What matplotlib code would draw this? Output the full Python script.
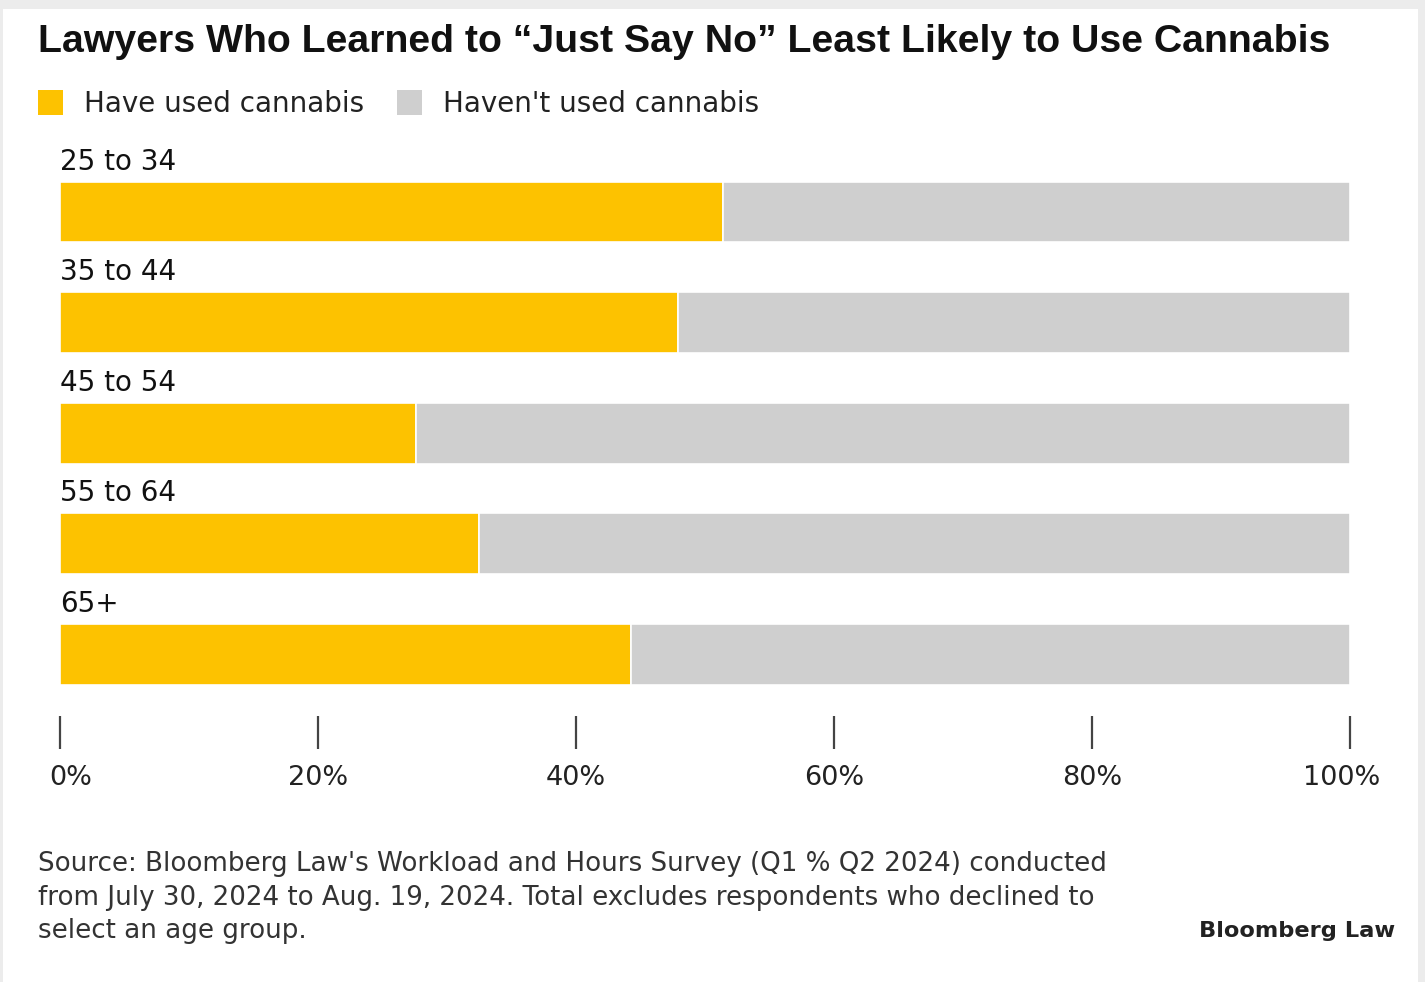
import matplotlib.pyplot as plt
import matplotlib.patches
import matplotlib.transforms as mtransforms
import numpy as np

plt.rcParams['font.family'] = ['DejaVu Sans']

ages = ['25 to 34', '35 to 44', '45 to 54', '55 to 64', '65+']
have_used = [51.4, 47.9, 27.6, 32.5, 44.3]
havent_used = [100 - v for v in have_used]
xticks = [0, 20, 40, 60, 80, 100]
xticklabels = ['0%', '20%', '40%', '60%', '80%', '100%']

yellow = '#FDC200'
grey = '#CFCFCF'
ink = '#111111'

W, H = 1425, 982
fig = plt.figure(figsize=(W / 100, H / 100), dpi=100)
fig.patch.set_facecolor('#ECECEC')
# white card inside the thin grey frame
fig.patches.append(matplotlib.patches.Rectangle((3 / W, 0), 1415 / W, 1 - 9 / H,
                                                transform=fig.transFigure, facecolor='white',
                                                edgecolor='none', zorder=-5))

ax = fig.add_axes([60 / W, 1 - 716 / H, 1290 / W, 576 / H])
ax.set_facecolor('none')
y = np.arange(len(ages))
ax.barh(y, have_used, height=0.55, color=yellow, edgecolor='white', linewidth=1.2)
ax.barh(y, havent_used, left=have_used, height=0.55, color=grey, edgecolor='white', linewidth=1.2)
ax.set_xlim(0, 100)
ax.set_ylim(4.557, -0.651)

for i, name in enumerate(ages):
    ax.text(0, i - 0.33, name, fontsize=20, color=ink, va='bottom', ha='left')

for s in ax.spines.values():
    s.set_visible(False)
ax.set_yticks([])
ax.set_xticks(xticks)
ax.set_xticklabels(xticklabels)
ax.tick_params(axis='x', length=24, width=1.6, color='#444444', pad=11,
               labelsize=19.5, labelcolor='#222222')
# end labels sit slightly inward, as in the original
labels = ax.get_xticklabels()
labels[0].set_transform(labels[0].get_transform() +
                        mtransforms.ScaledTranslation(0.11, 0, fig.dpi_scale_trans))
labels[-1].set_transform(labels[-1].get_transform() +
                         mtransforms.ScaledTranslation(-0.08, 0, fig.dpi_scale_trans))

fig.text(38 / W, 1 - 42 / H, 'Lawyers Who Learned to \u201cJust Say No\u201d Least Likely to Use Cannabis',
         fontsize=28.3, fontweight='bold', color=ink, va='center', ha='left',
         family='Liberation Sans')

# legend
for x0, label, c in [(38, 'Have used cannabis', yellow), (397, "Haven't used cannabis", grey)]:
    fig.patches.append(matplotlib.patches.Rectangle((x0 / W, 1 - 115 / H), 25 / W, 25 / H,
                                                    transform=fig.transFigure, facecolor=c,
                                                    edgecolor='none'))
    fig.text((x0 + 46) / W, 1 - 104 / H, label, fontsize=20, color='#222222',
             va='center', ha='left')

source = ("Source: Bloomberg Law's Workload and Hours Survey (Q1 % Q2 2024) conducted\n"
          "from July 30, 2024 to Aug. 19, 2024. Total excludes respondents who declined to\n"
          "select an age group.")
fig.text(38 / W, 1 - 851 / H, source, fontsize=18.8, color='#333333', va='top', ha='left',
         linespacing=1.38)
fig.text(1395 / W, 1 - 931 / H, 'Bloomberg Law', fontsize=16.2, fontweight='bold',
         color='#222222', va='center', ha='right')

fig.savefig('out.png', dpi=100)
